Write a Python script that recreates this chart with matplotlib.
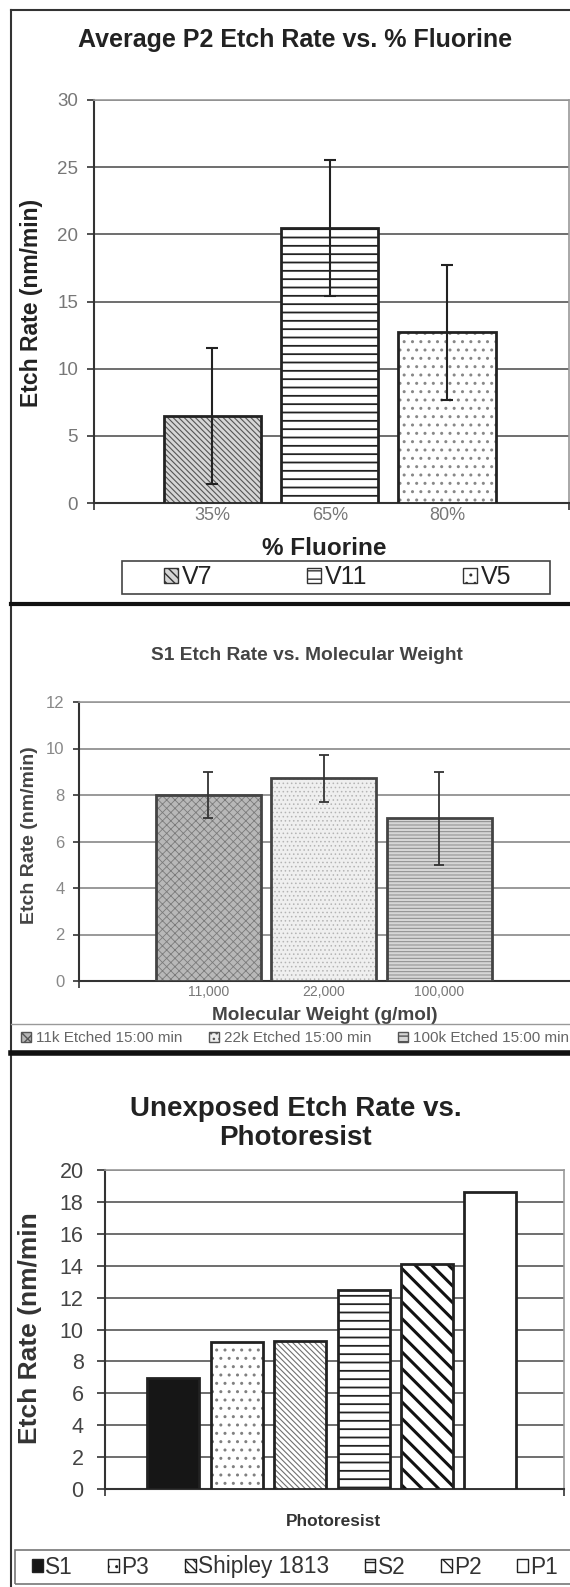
import matplotlib
matplotlib.use('Agg')
import matplotlib.pyplot as plt
from matplotlib.lines import Line2D
from matplotlib.patches import Rectangle, Patch

# ---- dados ----
fluor_labels = ['35%', '65%', '80%']
fluor_series = ['V7', 'V11', 'V5']
fluor_rate = [6.5, 20.45, 12.7]
fluor_err = [5.05, 5.05, 5.05]

mw_labels = ['11,000', '22,000', '100,000']
mw_series = ['11k Etched 15:00 min', '22k Etched 15:00 min', '100k Etched 15:00 min']
mw_rate = [8.0, 8.72, 7.0]
mw_err = [1.0, 1.02, 2.0]

resists = ['S1', 'P3', 'Shipley 1813', 'S2', 'P2', 'P1']
resist_rate = [6.95, 9.2, 9.3, 12.5, 14.1, 18.65]

plt.rcParams['font.family'] = ['Liberation Sans', 'DejaVu Sans']
plt.rcParams['hatch.linewidth'] = 1.0

W, H = 570, 1587
fig = plt.figure(figsize=(W / 100, H / 100), dpi=100)


def rect(x0, y0, x1, y1):
    # caixa em pixels (origem no topo) -> fração da figura
    return [x0 / W, 1 - y1 / H, (x1 - x0) / W, (y1 - y0) / H]


def hline(x0, x1, y, lw, color):
    fig.add_artist(Line2D([x0 / W, x1 / W], [1 - y / H, 1 - y / H],
                          transform=fig.transFigure, color=color, lw=lw))


def bars(ax, xs, vals, width, faces, hatches, hcols, hlw, edge, elw):
    for x, v, fc, h, hc, lw in zip(xs, vals, faces, hatches, hcols, hlw):
        b = ax.bar(x, v, width, color=fc, hatch=h, edgecolor=hc, linewidth=0, zorder=3)
        for p in b:
            if hasattr(p, 'set_hatch_linewidth'):
                p.set_hatch_linewidth(lw)
    ax.bar(xs, vals, width, fill=False, edgecolor=edge, linewidth=elw, zorder=4)


def style_axes(ax, xlim, ylim, yticks, grid_col, lab_col, lab_size, tick_len, tick_pad):
    ax.set_xlim(*xlim)
    ax.set_ylim(*ylim)
    ax.set_yticks(yticks)
    ax.yaxis.grid(True, color=grid_col, lw=1.2, zorder=0)
    ax.set_axisbelow(True)
    ax.tick_params(axis='y', length=tick_len, width=1.2, color='#333',
                   labelcolor=lab_col, labelsize=lab_size, pad=tick_pad)
    ax.set_xticks(list(xlim), minor=True)
    ax.tick_params(axis='x', which='minor', length=5, width=1.2, color='#333')
    for s in ['left', 'bottom']:
        ax.spines[s].set_color('#333')
        ax.spines[s].set_linewidth(1.5)
    for s in ['top', 'right']:
        ax.spines[s].set_color('#999')
        ax.spines[s].set_linewidth(1.2)


# ---- moldura ----
hline(11, 570, 10, 1.5, '#333')
fig.add_artist(Line2D([11 / W, 11 / W], [1 - 10 / H, 0], transform=fig.transFigure,
                      color='#333', lw=1.5))
hline(11, 570, 603.5, 3.0, '#111')
hline(11, 570, 1024, 1.0, '#999')
hline(11, 570, 1053, 4.0, '#111')

# ---- painel 1 ----
ax1 = fig.add_axes(rect(94, 100, 569, 503))
x1 = [0, 1, 2]
bars(ax1, x1, fluor_rate, 0.83,
     ['#d6d6d6', 'white', 'white'],
     ['\\\\\\\\\\\\', '--', '..'],
     ['#555555', '#222222', '#888888'],
     [0.8, 1.3, 1.0], '#222', 2.0)
ax1.errorbar(x1, fluor_rate, yerr=fluor_err, fmt='none', ecolor='#222',
             elinewidth=1.5, capsize=4.5, capthick=1.5, zorder=5)
style_axes(ax1, (-1.01, 3.04), (0, 30), range(0, 31, 5), '#555', '#777', 13.5, 5, 6.5)
ax1.set_xticks(x1)
ax1.set_xticklabels(fluor_labels)
ax1.tick_params(axis='x', which='major', length=0, labelsize=13, labelcolor='#777', pad=3)
ax1.set_title('Average P2 Etch Rate vs. % Fluorine', fontsize=18, fontweight='bold',
              color='#222', x=0.423, y=1.15, va='center', pad=0)
ax1.set_ylabel('Etch Rate (nm/min)', fontsize=16.5, fontweight='bold', color='#222', va='center')
ax1.yaxis.set_label_coords(-0.1326, 0.496)
ax1.set_xlabel('% Fluorine', fontsize=17.5, fontweight='bold', color='#222', va='center')
ax1.xaxis.set_label_coords(0.484, -0.1117)

fig.add_artist(Rectangle((122 / W, 1 - 594 / H), 428 / W, 33 / H, transform=fig.transFigure,
                         fill=False, edgecolor='#444', lw=1.2))
h1 = [Patch(facecolor=fc, edgecolor='#333', hatch=h, lw=1)
      for fc, h in zip(['#d6d6d6', 'white', 'white'], ['\\\\\\\\', '--', '..'])]
ax1.legend(h1, fluor_series, loc='center', bbox_to_anchor=rect(164, 562, 511, 593),
           bbox_transform=fig.transFigure, mode='expand', ncol=3, frameon=False,
           borderpad=0, borderaxespad=0, handlelength=0.56, handleheight=0.56,
           handletextpad=0.15, fontsize=18, labelcolor='#222')

# ---- painel 2 ----
ax2 = fig.add_axes(rect(79, 702, 572, 981))
x2 = [0, 1, 2]
bars(ax2, x2, mw_rate, 0.91,
     ['#b8b8b8', '#efefef', '#d6d6d6'],
     ['xxxx', '....', '-----'],
     ['#7a7a7a', '#b4b4b4', '#8a8a8a'],
     [0.6, 0.6, 0.7], '#444', 2.0)
ax2.errorbar(x2, mw_rate, yerr=mw_err, fmt='none', ecolor='#333',
             elinewidth=1.3, capsize=3.5, capthick=1.3, zorder=5)
style_axes(ax2, (-1.12, 3.15), (0, 12), range(0, 13, 2), '#888', '#888', 12, 4.5, 6)
ax2.set_xticks(x2)
ax2.set_xticklabels(mw_labels)
ax2.tick_params(axis='x', which='major', length=0, labelsize=10, labelcolor='#777', pad=3)
ax2.set_title('S1 Etch Rate vs. Molecular Weight', fontsize=13.8, fontweight='bold',
              color='#444', x=0.4625, y=1.165, va='center', pad=0)
ax2.set_ylabel('Etch Rate (nm/min)', fontsize=14, fontweight='bold', color='#444', va='center')
ax2.yaxis.set_label_coords(-0.1014, 0.523)
ax2.set_xlabel('Molecular Weight (g/mol)', fontsize=13.7, fontweight='bold', color='#444',
               va='center')
ax2.xaxis.set_label_coords(0.499, -0.125)

h2 = [Patch(facecolor=fc, edgecolor='#555', hatch=h, lw=1)
      for fc, h in zip(['#b8b8b8', '#efefef', '#d6d6d6'], ['xxx', '...', '---'])]
ax2.legend(h2, mw_series, loc='center', bbox_to_anchor=rect(21, 1028, 569, 1048),
           bbox_transform=fig.transFigure, mode='expand', ncol=3, frameon=False,
           borderpad=0, borderaxespad=0, handlelength=0.65, handleheight=0.65,
           handletextpad=0.33, fontsize=11, labelcolor='#666')

# ---- painel 3 ----
ax3 = fig.add_axes(rect(105, 1170, 564, 1489))
x3 = list(range(len(resists)))
bars(ax3, x3, resist_rate, 0.82,
     ['#161616', 'white', 'white', 'white', 'white', 'white'],
     ['', '..', '\\\\\\\\\\\\', '--', '\\\\', ''],
     ['#161616', '#808080', '#707070', '#222222', '#111111', '#222222'],
     [1.0, 1.0, 0.8, 1.3, 2.2, 1.0], '#222', 2.0)
style_axes(ax3, (-1.08, 6.16), (0, 20), range(0, 21, 2), '#555', '#444', 15.5, 6, 9.4)
ax3.set_xticks([])
ax3.set_xticks([-1.08, 6.16], minor=True)
ax3.set_title('Unexposed Etch Rate vs.\nPhotoresist', fontsize=20, fontweight='bold',
              color='#222', x=0.415, y=1.145, va='center', linespacing=1.15, pad=0)
ax3.set_ylabel('Etch Rate (nm/min', fontsize=19, fontweight='bold', color='#333', va='center')
ax3.yaxis.set_label_coords(-0.163, 0.505)
ax3.set_xlabel('Photoresist', fontsize=12.4, fontweight='bold', color='#333', va='center')
ax3.xaxis.set_label_coords(0.497, -0.103)

fig.add_artist(Rectangle((15 / W, 1 - 1584 / H), 600 / W, 34 / H, transform=fig.transFigure,
                         fill=False, edgecolor='#777', lw=1.2))
h3 = [Patch(facecolor=fc, edgecolor='#222', hatch=h, lw=1)
      for fc, h in zip(['#161616', 'white', 'white', 'white', 'white', 'white'],
                       ['', '..', '\\\\\\\\', '--', '\\\\', ''])]
ax3.legend(h3, resists, loc='center', bbox_to_anchor=rect(32, 1555, 558, 1579),
           bbox_transform=fig.transFigure, mode='expand', ncol=6, frameon=False,
           borderpad=0, borderaxespad=0, handlelength=0.48, handleheight=0.48,
           handletextpad=0.1, fontsize=16.3, labelcolor='#333')

fig.savefig('out.png', dpi=100)
